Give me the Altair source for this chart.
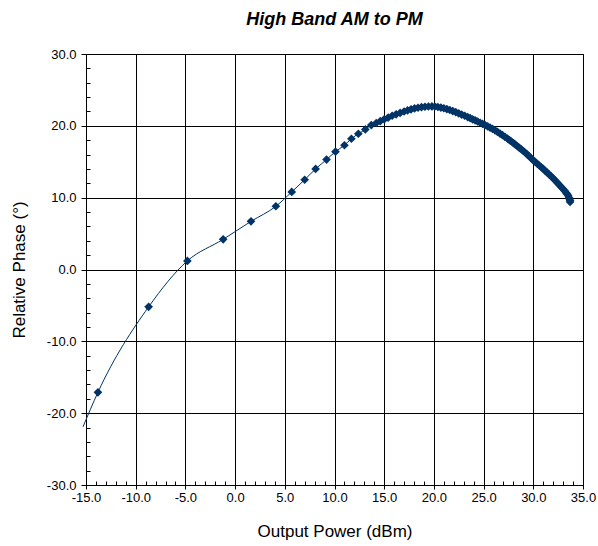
import altair as alt
import pandas as pd

# Sparse low-power measurements (marker + smoothed line)
sparse_x = [-13.8, -8.7, -4.8, -1.2, 1.6, 4.1, 5.7, 7.0, 8.1, 9.2, 10.1, 11.0,
            11.7, 12.4, 13.1, 13.7, 14.2]
sparse_y = [-17.1, -5.2, 1.2, 4.2, 6.7, 8.8, 10.8, 12.5, 14.0, 15.3, 16.4, 17.3,
            18.2, 18.9, 19.5, 20.1, 20.4]

# Dense sweep through compression
dense_x = [14.6, 15.0, 15.4, 15.8, 16.2, 16.6, 17.0, 17.35, 17.7, 18.05, 18.4, 18.75,
           19.1, 19.45, 19.8, 20.1, 20.4, 20.7, 21.0, 21.3, 21.6, 21.9, 22.2, 22.5,
           22.8, 23.1, 23.4, 23.65, 23.9, 24.15, 24.4, 24.65, 24.9, 25.15, 25.4, 25.65,
           25.9, 26.15, 26.4, 26.65, 26.9, 27.15, 27.4, 27.6, 27.8, 28.0, 28.2, 28.4,
           28.6, 28.8, 29.0, 29.2, 29.4, 29.6, 29.8, 30.0, 30.2, 30.4, 30.6, 30.8,
           31.0, 31.2, 31.4, 31.6, 31.8, 32.0, 32.2, 32.4, 32.6, 32.8, 33.0, 33.15,
           33.3, 33.4, 33.5, 33.6, 33.65, 33.7, 33.7]
dense_y = [20.65, 20.9, 21.15, 21.4, 21.6, 21.8, 22.0, 22.15, 22.3, 22.42, 22.52, 22.6,
           22.66, 22.69, 22.7, 22.69, 22.62, 22.54, 22.45, 22.33, 22.2, 22.05, 21.9, 21.73,
           21.56, 21.4, 21.22, 21.07, 20.91, 20.76, 20.6, 20.43, 20.27, 20.1, 19.93, 19.75,
           19.57, 19.37, 19.15, 18.92, 18.7, 18.46, 18.22, 18.02, 17.82, 17.6, 17.38, 17.16,
           16.94, 16.72, 16.5, 16.25, 16.0, 15.74, 15.47, 15.2, 14.96, 14.72, 14.48, 14.24,
           14.0, 13.74, 13.48, 13.22, 12.96, 12.7, 12.4, 12.1, 11.8, 11.5, 11.2, 10.95,
           10.7, 10.5, 10.3, 10.0, 9.8, 9.6, 9.4]

# Smoothed trend line starts just left of the first marker
lead_x = [-15.3]
lead_y = [-21.9]

x_major = [-15, -10, -5, 0, 5, 10, 15, 20, 25, 30, 35]
y_major = [-30, -20, -10, 0, 10, 20, 30]
x_minor = list(range(-15, 36))
y_minor = list(range(-30, 31, 2))

NAVY = "#003366"
FONT = "Liberation Sans"
# plain hyphen-minus for negative labels
LABEL = "replace(format(datum.value, '.1f'), '\u2212', '-')"

pts = pd.DataFrame({"p": sparse_x + dense_x, "phase": sparse_y + dense_y})
trace = pd.DataFrame({"p": lead_x + sparse_x + dense_x,
                      "phase": lead_y + sparse_y + dense_y,
                      "order": list(range(len(lead_x) + len(sparse_x) + len(dense_x)))})

xscale = alt.Scale(domain=[-15, 35], nice=False, zero=False)
yscale = alt.Scale(domain=[-30, 30], nice=False, zero=False)

x_axis = alt.Axis(values=x_major, labelExpr=LABEL, title="Output Power (dBm)",
                  grid=True, gridColor="#000", gridWidth=1, gridOpacity=1,
                  domainColor="#000", tickColor="#000", tickSize=4,
                  labelFlush=False, labelOverlap=False,
                  labelFont=FONT, labelFontSize=13, labelColor="#000", labelPadding=2,
                  titleFont=FONT, titleFontSize=17, titleFontWeight="normal",
                  titleColor="#000", titlePadding=19, orient="bottom")
y_axis = alt.Axis(values=y_major, labelExpr=LABEL, title="Relative Phase (°)",
                  grid=True, gridColor="#000", gridWidth=1, gridOpacity=1,
                  domainColor="#000", tickColor="#000", tickSize=5,
                  labelFlush=False, labelOverlap=False,
                  labelFont=FONT, labelFontSize=13, labelColor="#000", labelPadding=5,
                  titleFont=FONT, titleFontSize=17, titleFontWeight="normal",
                  titleColor="#000", titlePadding=18, orient="left")

line = alt.Chart(trace).mark_line(color=NAVY, strokeWidth=1, interpolate="monotone").encode(
    x=alt.X("p:Q", scale=xscale, axis=x_axis),
    y=alt.Y("phase:Q", scale=yscale, axis=y_axis),
    order="order:Q",
)

markers = alt.Chart(pts).mark_point(shape="diamond", filled=True, size=75,
                                    color=NAVY, opacity=1).encode(
    x=alt.X("p:Q", scale=xscale, axis=None),
    y=alt.Y("phase:Q", scale=yscale, axis=None),
)

# Inward-pointing minor ticks (axis shifted into the plot by its tick length)
minor = alt.Chart(pts).mark_point(opacity=0).encode(
    x=alt.X("p:Q", scale=xscale,
            axis=alt.Axis(values=x_minor, labels=False, domain=False, grid=False,
                          tickColor="#000", tickSize=4, offset=-4, title=None,
                          orient="bottom")),
    y=alt.Y("phase:Q", scale=yscale,
            axis=alt.Axis(values=y_minor, labels=False, domain=False, grid=False,
                          tickColor="#000", tickSize=4, offset=-4, title=None,
                          orient="left")),
)

chart = alt.layer(line, minor, markers).resolve_axis(
    x="independent", y="independent"
).properties(
    width=497,
    height=431,
    padding={"left": 86, "top": 54, "right": 15, "bottom": 61},
    autosize=alt.AutoSizeParams(type="none"),
    background="white",
    title=alt.TitleParams("High Band AM to PM", font=FONT, fontSize=18,
                          fontWeight="bold", fontStyle="italic", color="#000",
                          anchor="middle", offset=19),
).configure_view(stroke="#000", strokeWidth=1)

chart.save("out.html", embed_options={"renderer": "svg", "actions": False})
